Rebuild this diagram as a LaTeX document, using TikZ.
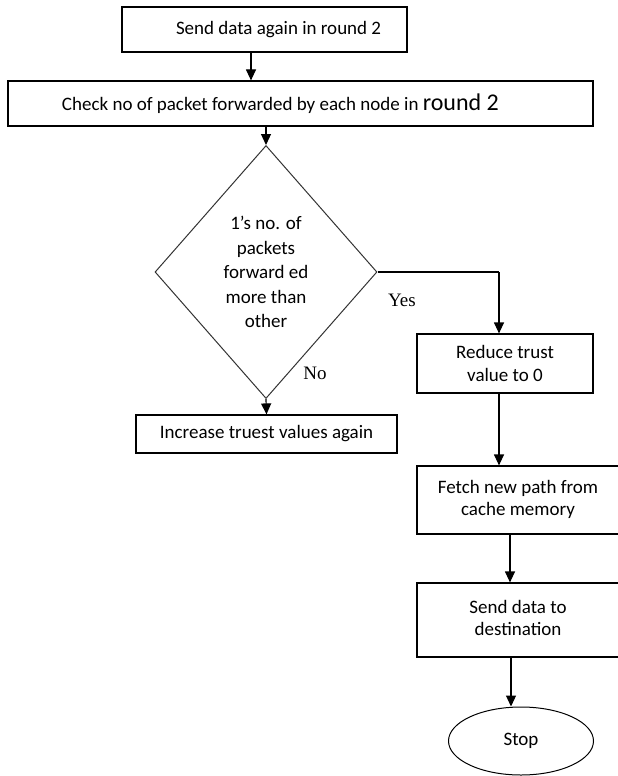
\documentclass[tikz,border=0pt]{standalone}
\usepackage{fontspec}
\setmainfont{Carlito}
\newfontfamily\timesf{Liberation Serif}
\usetikzlibrary{shapes.geometric,arrows.meta}
\tikzset{
  procbox/.style={draw=black, line width=1.2pt, inner sep=0pt, align=center,
    font=\fontsize{19}{22.5}\selectfont},
  decbox/.style={draw=black!80, line width=1pt, diamond, inner sep=0pt, align=center,
    font=\fontsize{19}{24.5}\selectfont},
  arr/.style={line width=1.2pt, -{Triangle[width=10pt,length=11pt]}},
  lbl/.style={font=\timesf\fontsize{19}{22}\selectfont, inner sep=0pt}
}
\begin{document}
\begin{tikzpicture}[x=1pt,y=-1pt]
\useasboundingbox (0,0) rectangle (618,776);
\node[procbox, minimum width=285pt, minimum height=45pt] (b1) at (264.5,29.5)
  {\makebox[285pt][l]{\hspace{54pt}Send data again in round 2}};
\node[procbox, minimum width=585pt, minimum height=45pt] (b2) at (300.5,103.5)
  {\makebox[585pt][l]{\hspace{54pt}Check no of packet forwarded by each node in {\fontsize{24}{24}\selectfont round 2}}};
\node[decbox, minimum width=222pt, minimum height=253pt] (dia) at (266,272)
  {1’s no. of\\packets\\forward ed\\more than\\other};
\node[procbox, minimum width=261pt, minimum height=38pt] (inc) at (266.5,434)
  {Increase truest values again};
\node[procbox, minimum width=176pt, minimum height=59pt] (red) at (505,363.5)
  {Reduce trust\\value to 0};
\node[procbox, minimum width=216pt, minimum height=68pt] (fet) at (525,500)
  {\makebox[216pt][l]{\makebox[202pt]{\begin{tabular}{@{}c@{}}Fetch new path from\\cache memory\end{tabular}}}};
\node[procbox, minimum width=216pt, minimum height=74pt] (snd) at (525,620)
  {\makebox[216pt][l]{\makebox[202pt]{\begin{tabular}{@{}c@{}}Send data to\\destination\end{tabular}}}};
\node[procbox, ellipse, line width=1pt, minimum width=145pt, minimum height=68pt] (stp) at (521,741)
  {Stop};
\node[lbl] (yes) at (402,300) {Yes};
\node[lbl] (no) at (315,373) {No};
\draw[arr] ([xshift=-13.5pt]b1.south) -- ([xshift=-13.5pt]b1.south |- b2.north);
\draw[arr] (dia.north |- b2.south) -- (dia.north);
\draw[arr] (dia.south) -- (inc.north);
\draw[line width=1.2pt] (dia.east) -- ([xshift=-6pt]red.north |- dia.east) coordinate (yc);
\draw[arr] (yc) -- ([xshift=-6pt]red.north);
\draw[arr] ([xshift=-6pt]red.south) -- ([xshift=-6pt]red.south |- fet.north);
\draw[arr] ([xshift=-15pt]fet.south) -- ([xshift=-15pt]snd.north);
\draw[arr] ([xshift=-14pt]snd.south) -- ([xshift=-14pt]snd.south |- stp.north);
\end{tikzpicture}
\end{document}
